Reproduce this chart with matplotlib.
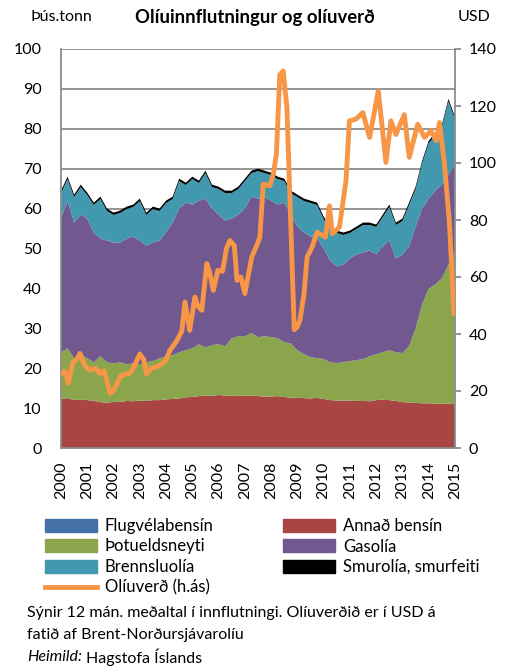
import numpy as np
import matplotlib
matplotlib.use("Agg")
import matplotlib.pyplot as plt
from matplotlib.patches import Patch
from matplotlib.lines import Line2D

plt.rcParams['font.family'] = ['Lato', 'DejaVu Sans']

# ---- data (quarterly, 2000Q1 .. 2015Q1), thousand tonnes, 12-month avg ----
start_year = 2000
end_year = 2015
years = list(range(2000, 2016))

flugvelabensin = [0.2, 0.2, 0.2, 0.2, 0.2, 0.2, 0.2, 0.2, 0.2, 0.2, 0.2, 0.2,
                  0.2, 0.2, 0.2, 0.2, 0.2, 0.2, 0.2, 0.2, 0.2, 0.2, 0.2, 0.2,
                  0.2, 0.2, 0.2, 0.2, 0.2, 0.2, 0.2, 0.2, 0.2, 0.2, 0.2, 0.2,
                  0.2, 0.2, 0.2, 0.2, 0.2, 0.2, 0.2, 0.2, 0.2, 0.2, 0.2, 0.2,
                  0.2, 0.2, 0.2, 0.2, 0.2, 0.2, 0.2, 0.2, 0.2, 0.2, 0.2, 0.2, 0.2]

annad_bensin = [12.1, 12.3, 11.8, 12.0, 11.8, 11.6, 11.3, 11.1,
                11.4, 11.3, 11.6, 11.5, 11.7, 11.6, 11.8, 11.8,
                12.0, 12.1, 12.2, 12.5, 12.6, 12.8, 13.0, 12.8,
                13.1, 12.9, 13.0, 12.8, 12.9, 13.0, 12.8, 12.7,
                12.7, 12.8, 12.6, 12.4, 12.4, 12.3, 12.2, 12.4,
                12.1, 11.8, 11.7, 11.7, 11.7, 11.6, 11.6, 11.5,
                11.8, 11.9, 11.8, 11.6, 11.3, 11.2, 11.1, 11.0,
                11.0, 10.9, 10.9, 10.9, 10.8]

thotueldsneyti = [11.7, 12.5, 10.5, 11.3, 10.5, 9.7, 11.5, 10.2,
                  9.6, 10.0, 9.2, 9.5, 9.1, 9.7, 9.8, 10.5,
                  10.8, 11.0, 11.6, 11.8, 12.2, 13.0, 12.0, 12.8,
                  12.7, 12.4, 14.3, 15.0, 14.9, 15.6, 14.8, 15.1,
                  14.9, 14.5, 13.7, 13.6, 11.9, 11.0, 10.4, 9.9,
                  10.0, 9.5, 9.4, 9.6, 9.9, 10.2, 10.5, 11.3,
                  11.5, 11.9, 12.5, 12.2, 12.3, 14.1, 18.7, 24.8,
                  28.8, 29.9, 31.4, 34.9, 38.0]

gasolia = [33.5, 37.0, 34.0, 35.0, 35.0, 32.5, 29.5, 30.5,
           30.3, 30.0, 31.5, 31.8, 31.0, 29.2, 29.7, 29.5,
           31.0, 33.2, 36.0, 37.0, 36.0, 36.0, 37.3, 34.2,
           32.5, 31.5, 30.0, 30.5, 32.0, 34.2, 34.7, 34.8,
           34.2, 33.5, 35.0, 32.3, 31.0, 30.5, 30.2, 30.3,
           27.7, 25.5, 24.2, 24.5, 25.7, 26.5, 26.7, 26.5,
           25.0, 26.5, 27.5, 23.5, 24.7, 25.0, 25.5, 24.0,
           22.5, 23.5, 23.5, 22.5, 22.0]

brennsluolia = [6.4, 5.4, 6.4, 6.9, 5.9, 6.9, 9.9, 7.4,
                6.9, 7.4, 7.4, 7.4, 9.9, 7.7, 8.4, 7.4,
                7.4, 5.9, 6.9, 4.4, 6.4, 4.4, 6.4, 5.4,
                6.4, 6.9, 6.4, 6.4, 6.9, 5.9, 6.9, 6.1,
                6.4, 6.4, 5.4, 5.4, 7.4, 7.9, 8.4, 8.1,
                7.4, 7.9, 8.4, 7.4, 6.4, 6.4, 6.9, 6.4,
                6.9, 7.4, 8.4, 8.4, 8.4, 10.4, 9.4, 11.4,
                13.9, 13.9, 14.4, 18.4, 11.4]

smurolia = [0.6, 0.6, 0.6, 0.6, 0.6, 0.6, 0.6, 0.6, 0.6, 0.6, 0.6, 0.6,
            0.6, 0.6, 0.6, 0.6, 0.6, 0.6, 0.6, 0.6, 0.6, 0.6, 0.6, 0.6,
            0.6, 0.6, 0.6, 0.6, 0.6, 0.6, 0.6, 0.6, 0.6, 0.6, 0.6, 0.6,
            0.6, 0.6, 0.6, 0.6, 0.6, 0.6, 0.6, 0.6, 0.6, 0.6, 0.6, 0.6,
            0.6, 0.6, 0.6, 0.6, 0.6, 0.6, 0.6, 0.6, 0.6, 0.6, 0.6, 0.6, 0.6]

# ---- oil price, USD per barrel (Brent), date as decimal year ----
oil_dates = [2000.0, 2000.15, 2000.28, 2000.45, 2000.6, 2000.72, 2000.9,
             2001.1, 2001.3, 2001.48, 2001.65, 2001.87, 2002.0, 2002.25,
             2002.45, 2002.6, 2002.75, 2003.0, 2003.15, 2003.26, 2003.45,
             2003.64, 2003.85, 2004.0, 2004.15, 2004.4, 2004.6, 2004.72,
             2004.9, 2005.1, 2005.2, 2005.36, 2005.55, 2005.65, 2005.8,
             2005.97, 2006.15, 2006.3, 2006.43, 2006.6, 2006.7, 2006.85,
             2007.0, 2007.26, 2007.45, 2007.57, 2007.7, 2007.95, 2008.08,
             2008.2, 2008.33, 2008.46, 2008.6, 2008.88, 2009.0, 2009.1,
             2009.25, 2009.37, 2009.56, 2009.75, 2010.07, 2010.22, 2010.33,
             2010.6, 2010.85, 2010.98, 2011.23, 2011.49, 2011.75, 2012.08,
             2012.37, 2012.56, 2012.75, 2013.07, 2013.26, 2013.58, 2013.84,
             2014.09, 2014.28, 2014.41, 2014.6, 2014.79, 2014.96]
oil_price = [26.0, 27.0, 22.7, 30.0, 31.0, 33.2, 29.0,
             27.3, 28.0, 26.2, 27.0, 19.2, 20.0, 25.0,
             26.0, 26.0, 28.0, 33.0, 31.0, 26.0, 28.0,
             28.5, 29.5, 31.0, 34.3, 37.5, 41.0, 51.2,
             41.3, 53.0, 50.0, 48.3, 64.7, 62.0, 55.3,
             62.3, 62.0, 70.0, 72.8, 71.0, 58.8, 60.0,
             54.2, 67.0, 71.0, 74.0, 92.6, 92.0, 96.0,
             103.0, 131.0, 132.3, 119.5, 41.5, 42.5, 45.0,
             54.0, 67.0, 70.5, 75.7, 74.0, 85.0, 75.2,
             77.5, 93.8, 114.8, 115.4, 117.7, 109.0, 125.3,
             100.2, 114.8, 110.0, 117.0, 102.0, 113.6, 109.0,
             111.3, 107.8, 114.2, 99.6, 78.7, 47.1]

labels = ['Flugvélabensín', 'Annað bensín', 'Þotueldsneyti', 'Gasolía',
          'Brennsluolía', 'Smurolía, smurfeiti']
colors = ['#4472A8', '#A94543', '#8AA54C', '#71588F', '#4298AF', '#000000']
oil_color = '#F79646'
grid_color = '#8C8C8C'

quarters = start_year + np.arange(len(annad_bensin)) * 0.25

fig = plt.figure(figsize=(5.17, 6.66), dpi=100)
ax = fig.add_axes([61/517, 1-448/666, (455-61)/517, (448-49)/666])

series = [flugvelabensin, annad_bensin, thotueldsneyti, gasolia, brennsluolia, smurolia]
ax.stackplot(quarters, *series, colors=colors, labels=labels, linewidth=0, zorder=2)

ax.set_xlim(start_year, end_year)
ax.set_ylim(0, 100)
ax.set_yticks(np.arange(0, 101, 10))
ax.set_xticks(years)
ax.set_xticklabels([str(y) for y in years], rotation=90, fontsize=11.5)
ax.tick_params(axis='y', length=0, labelsize=11.5, pad=14)
ax.tick_params(axis='x', length=0, pad=10)
ax.yaxis.grid(True, color=grid_color, linewidth=1.3, zorder=0)
ax.set_axisbelow(True)
for sp in ['left', 'bottom', 'right']:
    ax.spines[sp].set_color(grid_color)
    ax.spines[sp].set_linewidth(1.3)
    ax.spines[sp].set_zorder(5)
ax.spines['top'].set_visible(False)
ax.set_zorder(1)

ax2 = ax.twinx()
ax2.plot(oil_dates, oil_price, color=oil_color, linewidth=3.5,
         solid_joinstyle='round', solid_capstyle='round')
ax2.set_ylim(0, 140)
ax2.set_yticks(np.arange(0, 141, 20))
ax2.tick_params(axis='y', length=4, width=1.3, color=grid_color, labelsize=11.5, pad=6)
for sp in ['left', 'bottom', 'right', 'top']:
    ax2.spines[sp].set_visible(False)
ax2.set_zorder(2)

fig.text(30/517, 1-17/666, 'Þús.tonn', fontsize=11.5, va='center', ha='left')
fig.text(490/517, 1-17/666, 'USD', fontsize=11.5, va='center', ha='right')
fig.text(255/517, 1-17/666, 'Olíuinnflutningur og olíuverð', fontsize=13.3,
         fontweight='bold', va='center', ha='center')

h = [Patch(color=c) for c in colors]
oil_handle = Line2D([0], [0], color=oil_color, linewidth=3.5)
handles = [h[0], h[2], h[4], oil_handle, h[1], h[3], h[5]]
leg_labels = [labels[0], labels[2], labels[4], 'Olíuverð (h.ás)',
              labels[1], labels[3], labels[5]]
fig.legend(handles, leg_labels, loc='upper left',
           bbox_to_anchor=(45/517, 1-518/666), ncol=2, frameon=False,
           fontsize=12, handlelength=3.1, handleheight=0.8, handletextpad=0.5,
           columnspacing=4.15, labelspacing=0.27, borderaxespad=0, borderpad=0)

fig.text(27/517, 1-613/666, 'Sýnir 12 mán. meðaltal í innflutningi. Olíuverðið er í USD á',
         fontsize=11.5, va='center', ha='left')
fig.text(27/517, 1-635/666, 'fatið af Brent-Norðursjávarolíu',
         fontsize=11.5, va='center', ha='left')
t = fig.text(27/517, 1-657/666, 'Heimild:', fontsize=11.5, va='center', ha='left', style='italic')
fig.canvas.draw()
bb = t.get_window_extent()
fig.text(bb.x1/517 + 4/517, 1-657/666, 'Hagstofa Íslands', fontsize=11.5, va='center', ha='left')

fig.savefig('out.png', dpi=100)
